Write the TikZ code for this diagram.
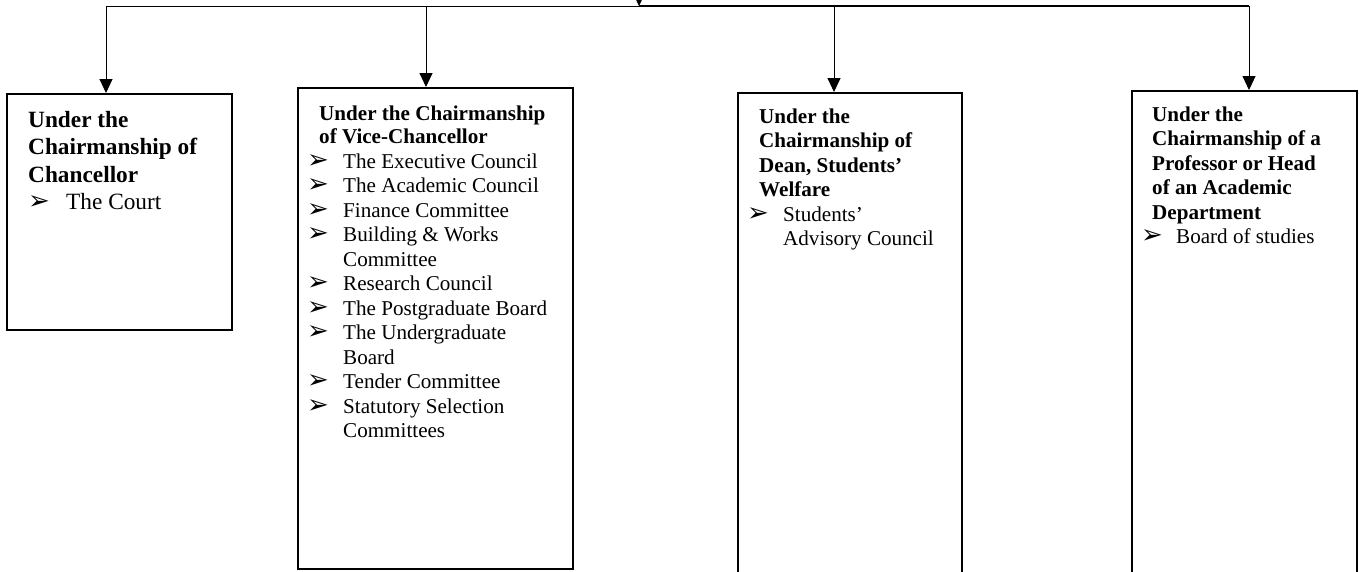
\documentclass[tikz,border=0pt]{standalone}
\usepackage{fontspec}
\setmainfont{Liberation Serif}
\newfontfamily\bulletfont{DejaVu Sans}
\usetikzlibrary{arrows.meta}
\begin{document}
\begin{tikzpicture}[x=1pt,y=-1pt,
 box/.style={draw,line width=2pt,inner sep=0pt},
 thin/.style={line width=1pt},
 thick/.style={line width=2pt},
 arr/.style={line width=1pt,-{Triangle[width=13pt,length=14pt]}},
 hdA/.style={anchor=base west,inner sep=0pt,font=\fontsize{23.3}{27}\selectfont\bfseries},
 itA/.style={anchor=base west,inner sep=0pt,font=\fontsize{23.3}{27}\selectfont},
 hd/.style={anchor=base west,inner sep=0pt,font=\fontsize{21.1}{24.5}\selectfont\bfseries},
 it/.style={anchor=base west,inner sep=0pt,font=\fontsize{21.1}{24.5}\selectfont},
 bl/.style={anchor=base west,inner sep=0pt,font=\fontsize{26}{26}\bulletfont},
]
\useasboundingbox (0,0) rectangle (1359,571);
\clip (0,0) rectangle (1359,571);

% boxes
\node[box,minimum width=225pt,minimum height=236pt] (b1) at (119.5,212) {};
\node[box,minimum width=275pt,minimum height=481pt] (b2) at (435.5,328.5) {};
\node[box,minimum width=224pt,minimum height=527pt] (b3) at (850,356.5) {};
\node[box,minimum width=225pt,minimum height=529pt] (b4) at (1244.5,355.5) {};

% connectors
\coordinate (a1) at (106,6);
\coordinate (a2) at (426,6);
\coordinate (a3) at (834,6);
\coordinate (a4) at (1249,6);
\coordinate (tin) at (639,6);
\coordinate (tsrc) at (639,-20);
\draw[thin] (a1) -- (tin);
\draw[thick] (tin) -- (a4);
\draw[arr] (tsrc) -- (tin);
\draw[arr] (a1) -- (a1 |- b1.north);
\draw[arr] (a2) -- (a2 |- b2.north);
\draw[arr] (a3) -- (a3 |- b3.north);
\draw[arr] (a4) -- (a4 |- b4.north);

% box 1 text
\node[hdA] (h11) at (28,127) {Under the};
\node[hdA] (h12) at (28,154.5) {Chairmanship of};
\node[hdA] (h13) at (28,182) {Chancellor};
\node[bl] (p11) at (28,209.5) {➢};
\node[itA] (i11) at (66,209.5) {The Court};

% box 2 text
\node[hd] (h21) at (319,120) {Under the Chairmanship};
\node[hd] (h22) at (319,143.5) {of Vice-Chancellor};
\node[bl] (p21) at (307,168) {➢};
\node[it] (i21) at (343,168) {The Executive Council};
\node[bl] (p22) at (307,192.5) {➢};
\node[it] (i22) at (343,192.5) {The Academic Council};
\node[bl] (p23) at (307,217) {➢};
\node[it] (i23) at (343,217) {Finance Committee};
\node[bl] (p24) at (307,241.5) {➢};
\node[it] (i24) at (343,241.5) {Building \& Works};
\node[it] (i24b) at (343,266) {Committee};
\node[bl] (p25) at (307,290.5) {➢};
\node[it] (i25) at (343,290.5) {Research Council};
\node[bl] (p26) at (307,315) {➢};
\node[it] (i26) at (343,315) {The Postgraduate Board};
\node[bl] (p27) at (307,339.5) {➢};
\node[it] (i27) at (343,339.5) {The Undergraduate};
\node[it] (i27b) at (343,364) {Board};
\node[bl] (p28) at (307,388.5) {➢};
\node[it] (i28) at (343,388.5) {Tender Committee};
\node[bl] (p29) at (307,413) {➢};
\node[it] (i29) at (343,413) {Statutory Selection};
\node[it] (i29b) at (343,437.5) {Committees};

% box 3 text
\node[hd] (h31) at (759,123) {Under the};
\node[hd] (h32) at (759,147.5) {Chairmanship of};
\node[hd] (h33) at (759,172) {Dean, Students’};
\node[hd] (h34) at (759,196.5) {Welfare};
\node[bl] (p31) at (747,221) {➢};
\node[it] (i31) at (783,221) {Students’};
\node[it] (i31b) at (783,245.5) {Advisory Council};

% box 4 text
\node[hd] (h41) at (1152,121) {Under the};
\node[hd] (h42) at (1152,145.5) {Chairmanship of a};
\node[hd] (h43) at (1152,170) {Professor or Head};
\node[hd] (h44) at (1152,194.5) {of an Academic};
\node[hd] (h45) at (1152,219) {Department};
\node[bl] (p41) at (1141,243.5) {➢};
\node[it] (i41) at (1176,243.5) {Board of studies};
\end{tikzpicture}
\end{document}
